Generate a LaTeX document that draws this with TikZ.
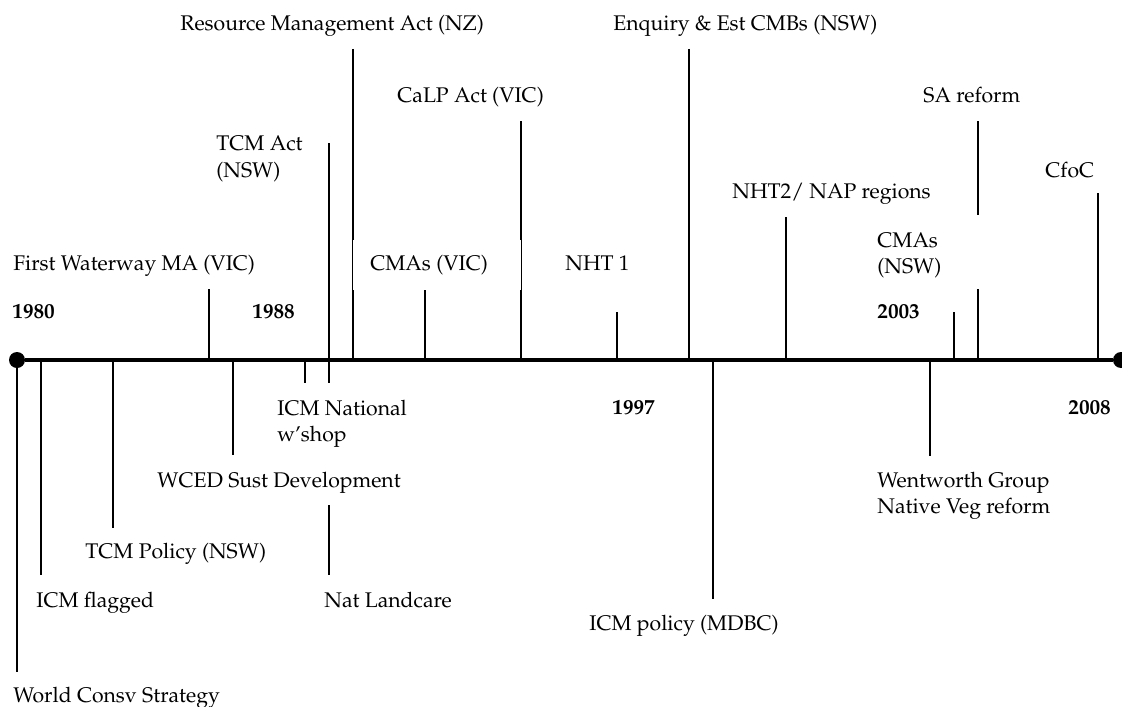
\documentclass[tikz,border=0pt]{standalone}
\usepackage[T1]{fontenc}
\usepackage{mathpazo}
\begin{document}
\begin{tikzpicture}[x=0.5pt,y=-0.5pt]
\tikzset{
 lbl/.style={anchor=base west, inner sep=0pt, font=\fontsize{10.6}{13}\selectfont},
 yr/.style={anchor=base west, inner sep=0pt, font=\fontsize{10.6}{13}\selectfont\bfseries},
 tick/.style={line width=1pt},
 axisline/.style={line width=2pt},
 enddot/.style={circle, fill=black, inner sep=0pt, minimum size=8pt}
}
\useasboundingbox (0,0) rectangle (1122,706);
% axis end points
\node[enddot] (start) at (17,360) {};
\node[enddot] (stop) at (1121,360) {};
% tick coordinates (top / bottom ends)
\foreach \n/\x/\ya/\yb in {wcs/17/360/672, flag/41/360/575, tcmp/113/360/528, wced/233/360/455,
  icmn/305/360/383, tcmact/329/143/383, land/329/505/575, fw/209/289/360, rma/353/49/360,
  cmavic/425/290/360, calp/521/121/360, nhtone/617/312/360, enq/689/49/360, mdbc/713/360/599,
  nhttwo/786/217/360, went/930/360/456, ythree/954/312/360, sa/978/121/360, cfoc/1098/193/360}
{
  \coordinate (\n-a) at (\x,\ya);
  \coordinate (\n-b) at (\x,\yb);
  \draw[tick] (\n-a) -- (\n-b);
}
% white patches behind labels
\fill[white] (353,240) rectangle (521,290);
\fill[white] (870,215) rectangle (990,289);
% axis
\draw[axisline] (start) -- (stop);
% year labels
\node[yr] (y1980) at (12,318) {1980};
\node[yr] (y1988) at (252,318) {1988};
\node[yr] (y2003) at (877,318) {2003};
\node[yr] (y1997) at (612,414) {1997};
\node[yr] (y2008) at (1068,414) {2008};
% labels above
\node[lbl] (lrma) at (180,31) {Resource Management Act (NZ)};
\node[lbl] (lenq) at (613,31) {Enquiry \& Est CMBs (NSW)};
\node[lbl] (lcalp) at (397,103) {CaLP Act (VIC)};
\node[lbl] (lsa) at (923,103) {SA reform};
\node[lbl] (ltcma) at (216,150) {TCM Act};
\node[lbl] (ltcmb) at (216,177) {(NSW)};
\node[lbl] (lcfoc) at (1045,177) {CfoC};
\node[lbl] (lnht2) at (732,198) {NHT2/ NAP regions};
\node[lbl] (lcnswa) at (877,247) {CMAs};
\node[lbl] (lcnswb) at (877,273) {(NSW)};
\node[lbl] (lfw) at (13,270) {First Waterway MA (VIC)};
\node[lbl] (lcvic) at (370,270) {CMAs (VIC)};
\node[lbl] (lnht1) at (565,270) {NHT 1};
% labels below
\node[lbl] (licma) at (277,415) {ICM National};
\node[lbl] (licmb) at (277,441) {w'shop};
\node[lbl] (lwced) at (157,487) {WCED Sust Development};
\node[lbl] (lwenta) at (877,487) {Wentworth Group};
\node[lbl] (lwentb) at (877,513) {Native Veg reform};
\node[lbl] (ltcmp) at (85,558) {TCM Policy (NSW)};
\node[lbl] (lflag) at (36,607) {ICM flagged};
\node[lbl] (lland) at (324,607) {Nat Landcare};
\node[lbl] (lmdbc) at (589,630) {ICM policy (MDBC)};
\node[lbl] (lwcs) at (13,702) {World Consv Strategy};
\end{tikzpicture}
\end{document}
